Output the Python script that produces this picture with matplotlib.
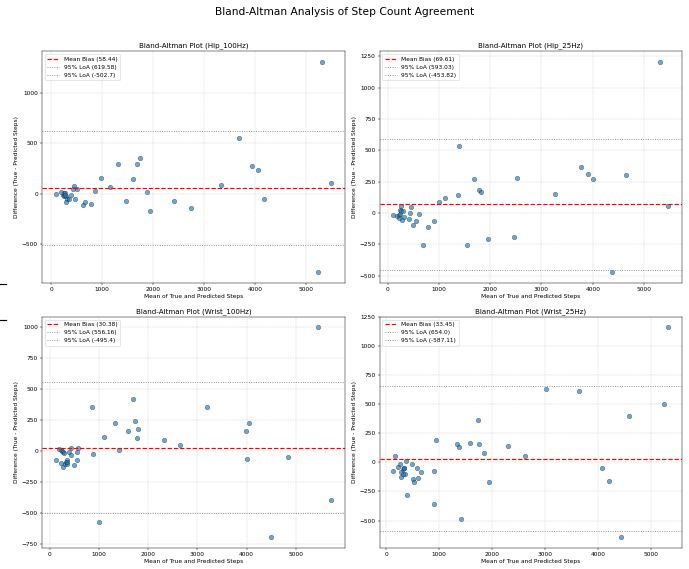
import matplotlib
matplotlib.use("Agg")
import matplotlib.pyplot as plt
from matplotlib.lines import Line2D
import numpy as np

DPI = 42.5
W, H = 689, 569

# ---------------- data ----------------
names = ["Hip_100Hz", "Hip_25Hz", "Wrist_100Hz", "Wrist_25Hz"]

hip100_mean = [85, 196, 229, 250, 275, 242, 294, 314, 288, 347, 392, 438, 425, 497, 458, 262,
               621, 654, 778, 856, 967, 1144, 1301, 1458, 1608, 1680, 1739, 1882, 1948,
               2412, 2752, 3333, 3693, 3954, 4059, 4190, 5235, 5314, 5497]
hip100_diff = [-3, 17, -10, 5, 7, -26, -26, -52, -76, -52, -16, 82, 49, 49, -46, -10,
               -115, -82, -96, 26, 155, 69, 296, -66, 145, 296, 355, 20, -174,
               -69, -141, 86, 549, 276, 234, -53, -773, 1306, 105]

hip25_mean = [111, 189, 215, 228, 240, 250, 255, 266, 305, 286, 325, 409, 429, 455,
              488, 559, 611, 683, 787, 898, 995, 1112, 1372, 1398, 1548, 1684, 1788, 1827,
              1951, 2458, 2523, 3270, 3765, 3901, 3999, 4376, 4655, 5319, 5475]
hip25_diff = [-19, -27, -38, -19, -8, 27, 13, 53, 18, -53, -32, -45, 0, 50,
              -99, -64, -6, -256, -112, -64, 88, 122, 140, 535, -259, 271, 186, 164,
              -208, -191, 279, 152, 370, 311, 271, -471, 300, 1207, 56]

wrist100_mean = [122, 196, 230, 250, 262, 230, 278, 290, 300, 320, 340, 345, 360, 390, 434, 434,
                 488, 549, 562, 583,
                 860, 874, 1003, 1111, 1321, 1409, 1585, 1694, 1728, 1762, 1789, 2324, 2642,
                 3184, 3991, 3997, 4038, 4499, 4837, 5447, 5710]
wrist100_diff = [-73, 19, 10, 2, -5, -97, -124, -15, -100, -90, -105, -70, -85, -8, 27, -32,
                 -108, -8, -73, 24,
                 355, -19, -573, 118, 228, 13, 161, 425, 245, 105, 183, 89, 54,
                 355, 161, -65, 228, -696, -43, 1003, -392]

wrist25_mean = [132, 170, 227, 264, 277, 283, 310, 327, 340, 359, 378, 397, 479, 497, 529, 579,
                598, 649, 320,
                901, 901, 945, 1341, 1379, 1417, 1587, 1725, 1744, 1839, 1933, 2292, 2632,
                3029, 3646, 4074, 4219, 4446, 4597, 5252, 5334]
wrist25_diff = [-74, 54, -43, -14, -80, -129, -60, -52, -45, -103, 9, -278, -14, -143, -166, -52,
                -138, -80, -100,
                -74, -361, 195, 158, 132, -490, 166, 361, 155, 80, -169, 140, 54,
                627, 610, -49, -158, -645, 395, 504, 1163]

bias_values = [58.44, 69.61, 30.38, 33.45]
loa_upper = [619.58, 593.03, 556.16, 654.0]
loa_lower = [-502.7, -453.82, -495.4, -587.11]

means = [hip100_mean, hip25_mean, wrist100_mean, wrist25_mean]
diffs = [hip100_diff, hip25_diff, wrist100_diff, wrist25_diff]

# ---------------- figure ----------------
fig, axes = plt.subplots(2, 2, figsize=(W / DPI, H / DPI), dpi=DPI)
fig.subplots_adjust(left=0.061, right=0.990, bottom=0.037, top=0.910,
                    wspace=0.1155, hspace=0.147)

for ax, name, m, d, b, up, lo in zip(axes.flat, names, means, diffs,
                                     bias_values, loa_upper, loa_lower):
    ax.scatter(m, d, s=60, color="C0", alpha=0.65, edgecolor="black", linewidth=0.6)
    ax.axhline(b, color="red", linestyle="--", linewidth=2, label=f"Mean Bias ({b})")
    ax.axhline(up, color="gray", linestyle=":", linewidth=1.5, label=f"95% LoA ({up})")
    ax.axhline(lo, color="gray", linestyle=":", linewidth=1.5, label=f"95% LoA ({lo})")
    ax.set_title(f"Bland-Altman Plot ({name})", fontsize=12)
    ax.set_xlabel("Mean of True and Predicted Steps", fontsize=10)
    ax.set_ylabel("Difference (True - Predicted Steps)", fontsize=10)
    ax.grid(True, linestyle="--", alpha=0.6)
    ax.legend(loc="upper left", fontsize=10)

fig.suptitle("Bland-Altman Analysis of Step Count Agreement", fontsize=18, y=0.988)

# small stray marks at the left edge of the reference
for yy in (284, 320):
    fig.add_artist(Line2D([0, 6 / W], [1 - yy / H] * 2, transform=fig.transFigure,
                          color="black", linewidth=2))

fig.savefig("out.png", dpi=DPI)
